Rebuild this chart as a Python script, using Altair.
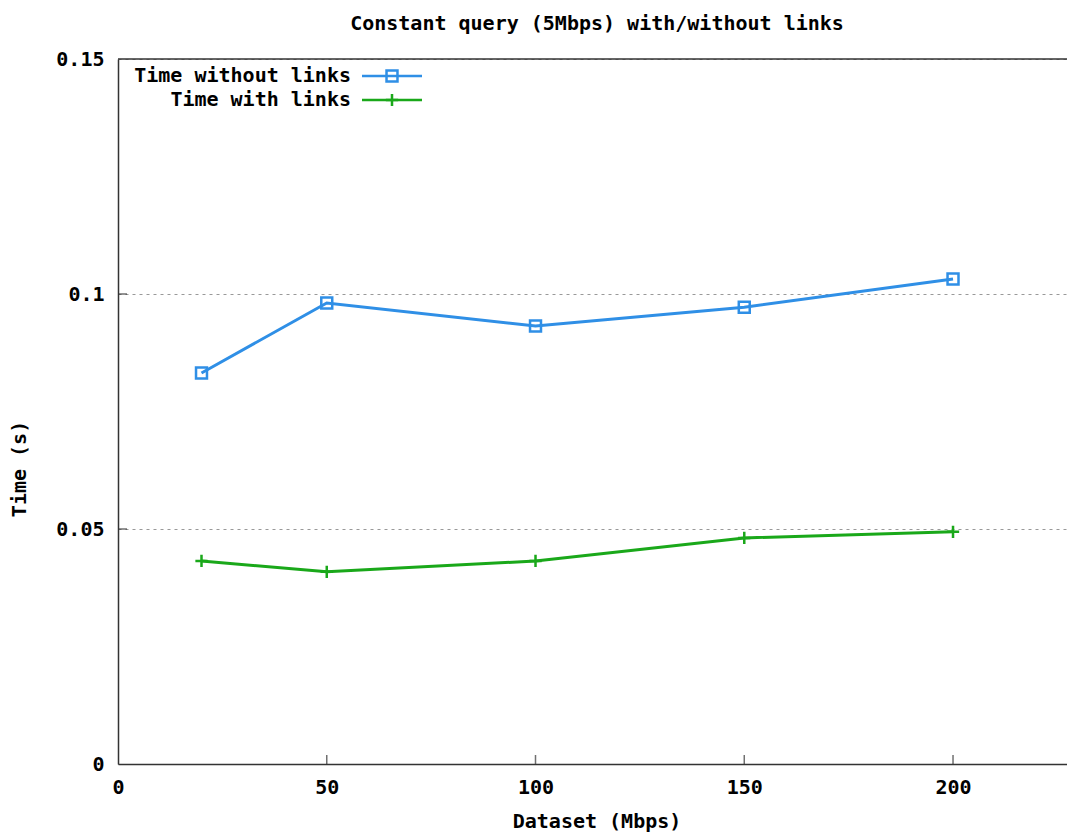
import altair as alt
import pandas as pd

# Data
datasets = [20, 50, 100, 150, 200]
time_without_links = [0.0832, 0.0981, 0.0932, 0.0972, 0.1032]
time_with_links = [0.0432, 0.0409, 0.0432, 0.0481, 0.0494]
series_names = ["Time without links", "Time with links"]
series_colors = ["#2f8fe6", "#1aa81a"]
x_ticks = [0, 50, 100, 150, 200]
y_ticks = [0, 0.05, 0.1, 0.15]
title_text = "Constant query (5Mbps) with/without links"
x_title = "Dataset (Mbps)"
y_title = "Time (s)"

W, H = 949, 705
FONT = "DejaVu Sans Mono"
FS = 20
BORDER = "#333333"
CROSS = "M-1,0L1,0M0,-1L0,1"

df_blue = pd.DataFrame({"x": datasets, "y": time_without_links})
df_green = pd.DataFrame({"x": datasets, "y": time_with_links})

xs = alt.Scale(domain=[0, 227.3], nice=False, zero=False)
ys = alt.Scale(domain=[0, 0.15], nice=False)

x_axis = alt.Axis(values=x_ticks, format="d", grid=False, ticks=False,
                  domainColor=BORDER, domainWidth=1.5, labelFont=FONT,
                  labelFontSize=FS, labelFontWeight="bold", labelColor="black",
                  labelPadding=13, title=None, labelFlush=False)
y_axis = alt.Axis(values=y_ticks, format="~g", grid=True, gridDash=[3, 4],
                  gridColor="#999999", gridWidth=1, ticks=False,
                  domainColor=BORDER, domainWidth=1.5, labelFont=FONT,
                  labelFontSize=FS, labelFontWeight="bold", labelColor="black",
                  labelPadding=14, title=None, labelFlush=False)

base_x = alt.X("x:Q", scale=xs, axis=x_axis)
base_y = alt.Y("y:Q", scale=ys, axis=y_axis)

blue_line = alt.Chart(df_blue).mark_line(color=series_colors[0], strokeWidth=3).encode(x=base_x, y=base_y)
blue_pts = alt.Chart(df_blue).mark_point(shape="square", filled=False, color=series_colors[0],
                                         size=120, strokeWidth=2.5, opacity=1).encode(x="x:Q", y="y:Q")
green_line = alt.Chart(df_green).mark_line(color=series_colors[1], strokeWidth=3).encode(x="x:Q", y="y:Q")
green_pts = alt.Chart(df_green).mark_point(shape=CROSS, filled=False, color=series_colors[1],
                                           size=150, strokeWidth=2.5, opacity=1).encode(x="x:Q", y="y:Q")

# inward ticks
xt = pd.DataFrame({"x": x_ticks[1:]})
x_tick_marks = alt.Chart(xt).mark_tick(color=BORDER, size=9, thickness=1.5, orient="vertical").encode(
    x="x:Q", y=alt.value(H - 4.5))
yt = pd.DataFrame({"y": y_ticks[1:3]})
y_tick_marks = alt.Chart(yt).mark_tick(color=BORDER, size=9, thickness=1.5, orient="horizontal").encode(
    y="y:Q", x=alt.value(4.5))

top_border = alt.Chart(pd.DataFrame({"a": [0]})).mark_rule(color=BORDER, strokeWidth=1.5).encode(
    x=alt.value(0), x2=alt.value(W), y=alt.value(0))

# legend
leg = pd.DataFrame({"name": series_names, "color": series_colors, "ty": [17, 41]})
leg_text = alt.Chart(leg).mark_text(font=FONT, fontSize=FS, fontWeight="bold", align="right",
                                    baseline="middle", color="black").encode(
    text="name:N", x=alt.value(233), y=alt.Y("ty:Q", scale=None, axis=None))
leg_lines = alt.Chart(leg).mark_rule(strokeWidth=2.5).encode(
    x=alt.value(244), x2=alt.value(304), y=alt.Y("ty:Q", scale=None, axis=None),
    color=alt.Color("color:N", scale=None, legend=None))
leg_blue = alt.Chart(leg.iloc[[0]]).mark_point(shape="square", filled=False, size=120, strokeWidth=2.5,
                                               color=series_colors[0], opacity=1).encode(
    x=alt.value(274), y=alt.Y("ty:Q", scale=None, axis=None))
leg_green = alt.Chart(leg.iloc[[1]]).mark_point(shape=CROSS, filled=False, size=150,
                                                strokeWidth=2.5, color=series_colors[1], opacity=1).encode(
    x=alt.value(274), y=alt.Y("ty:Q", scale=None, axis=None))

# titles
titles = pd.DataFrame({"t": [title_text, x_title], "px": [479, 479], "py": [-35, 763]})
title_marks = alt.Chart(titles).mark_text(font=FONT, fontSize=FS, fontWeight="bold", align="center",
                                          baseline="middle", color="black").encode(
    text="t:N", x=alt.X("px:Q", scale=None, axis=None), y=alt.Y("py:Q", scale=None, axis=None))
ytitle = alt.Chart(pd.DataFrame({"t": [y_title]})).mark_text(font=FONT, fontSize=FS, fontWeight="bold",
                                                             align="center", baseline="middle", angle=270,
                                                             color="black").encode(
    text="t:N", x=alt.value(-98), y=alt.value(410))

chart = alt.layer(
    blue_line, green_line, blue_pts, green_pts, x_tick_marks, y_tick_marks, top_border,
    leg_lines, leg_blue, leg_green, leg_text, title_marks, ytitle
).resolve_scale(x="shared", y="shared").properties(
    width=W, height=H,
    autosize=alt.AutoSizeParams(type="none"),
    padding={"left": 118, "top": 59, "right": 0, "bottom": 68},
    background="white",
).configure_view(stroke=None)

chart.save("out.html", embed_options={"renderer": "svg", "actions": False})
